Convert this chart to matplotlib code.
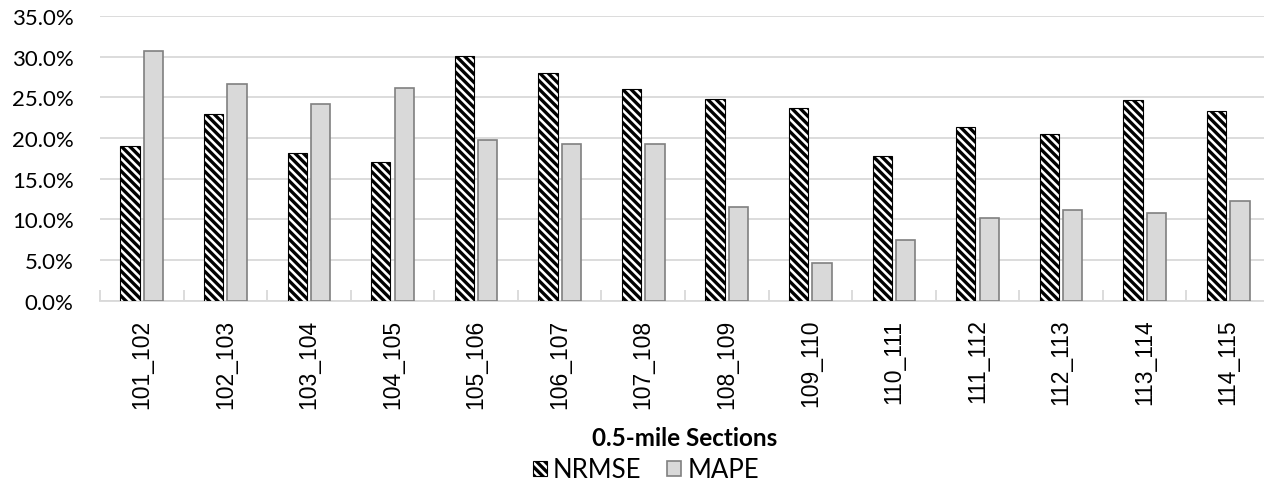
import numpy as np
import matplotlib
matplotlib.use("Agg")
from matplotlib import pyplot as plt
from matplotlib.patches import Patch
from matplotlib.ticker import FuncFormatter, FixedLocator

sections = ["101_102", "102_103", "103_104", "104_105", "105_106", "106_107", "107_108",
            "108_109", "109_110", "110_111", "111_112", "112_113", "113_114", "114_115"]
nrmse = [0.190, 0.229, 0.181, 0.171, 0.301, 0.280, 0.260,
         0.248, 0.237, 0.178, 0.214, 0.205, 0.247, 0.233]
mape = [0.307, 0.266, 0.242, 0.261, 0.198, 0.192, 0.192,
        0.115, 0.046, 0.075, 0.102, 0.111, 0.108, 0.123]

plt.rcParams["hatch.linewidth"] = 2.4
plt.rcParams["hatch.color"] = "black"
stripes = "\\" * 4

fig = plt.figure(figsize=(12.64, 4.85), dpi=100)
ax = fig.add_axes([100 / 1264, 1 - 301.5 / 485, 1170 / 1264, 284.5 / 485])

x = np.arange(len(sections))
w = 0.23
ax.bar(x - 0.14, nrmse, w, color="white", edgecolor="black", linewidth=0.8,
       hatch=stripes, zorder=3)
ax.bar(x + 0.14, mape, w, color="#d9d9d9", edgecolor="#808080", linewidth=1.2, zorder=3)

ax.set_xlim(-0.5, len(sections) - 0.5)
ax.set_ylim(0, 0.35)
ax.set_yticks(np.arange(0, 0.351, 0.05))
ax.yaxis.set_major_formatter(FuncFormatter(lambda v, p: f"{v * 100:.1f}%"))
ax.grid(axis="y", color="#d9d9d9", linewidth=1.3, zorder=0)
for s in ["top", "right", "left"]:
    ax.spines[s].set_visible(False)
ax.spines["bottom"].set_color("#d9d9d9")
ax.spines["bottom"].set_linewidth(1.3)

ax.set_xticks(x)
ax.set_xticklabels(sections, rotation=90, family="Liberation Sans", fontsize=16.5)
ax.xaxis.set_minor_locator(FixedLocator(np.arange(-0.5, len(sections), 1.0)))
ax.tick_params(axis="x", which="major", length=0, pad=13)
ax.tick_params(axis="x", which="minor", direction="in", length=8, color="#d9d9d9", width=1.3)
ax.tick_params(axis="y", length=0, pad=19)
for t in ax.get_yticklabels():
    t.set_family("Lato")
    t.set_fontsize(16)

fig.text(685 / 1264, 1 - 439 / 485, "0.5-mile Sections", family="Lato", fontweight="bold",
         fontsize=17.5, ha="center", va="center")

handles = [Patch(facecolor="white", edgecolor="black", hatch=stripes, linewidth=0.8),
           Patch(facecolor="#d9d9d9", edgecolor="#808080", linewidth=1.2)]
fig.legend(handles, ["NRMSE", "MAPE"], loc="center", bbox_to_anchor=(646 / 1264, 1 - 471 / 485),
           ncol=2, frameon=False, handlelength=0.55, handleheight=0.55, handletextpad=0.25,
           columnspacing=1.0, prop={"family": "Lato", "size": 18.5})

fig.savefig("out.png", dpi=100)
